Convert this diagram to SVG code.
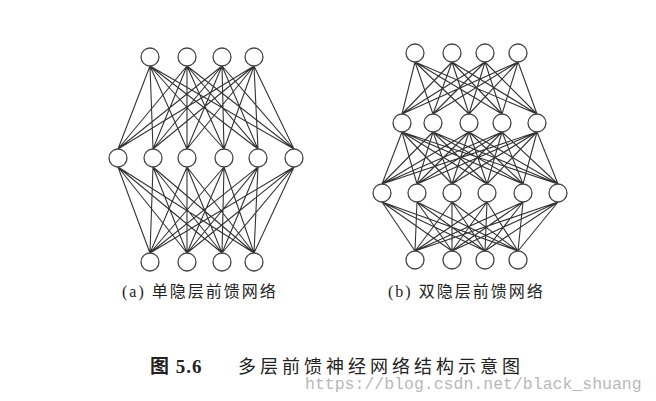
<svg xmlns="http://www.w3.org/2000/svg" width="656" height="401" viewBox="0 0 656 401">
<style>
.e{stroke:#333;stroke-width:1.1;fill:none}
.n circle{fill:#fff;stroke:#444;stroke-width:1.3}
.l{font-family:"Liberation Serif","Noto Sans CJK SC",serif;font-size:16px;fill:#222;letter-spacing:2px}
</style>
<rect width="656" height="401" fill="#fff"/>
<g id="connectors" class="e">
<path d="M150 66L118 149M150 66L153 149M150 66L187 149M150 66L224 149M150 66L258 149M150 66L294 149
M187 66L118 149M187 66L153 149M187 66L187 149M187 66L224 149M187 66L258 149M187 66L294 149
M222 66L118 149M222 66L153 149M222 66L187 149M222 66L224 149M222 66L258 149M222 66L294 149
M254 66L118 149M254 66L153 149M254 66L187 149M254 66L224 149M254 66L258 149M254 66L294 149
M150 253L118 167M150 253L153 167M150 253L187 167M150 253L224 167M150 253L258 167M150 253L294 167
M187 253L118 167M187 253L153 167M187 253L187 167M187 253L224 167M187 253L258 167M187 253L294 167
M222 253L118 167M222 253L153 167M222 253L187 167M222 253L224 167M222 253L258 167M222 253L294 167
M254 253L118 167M254 253L153 167M254 253L187 167M254 253L224 167M254 253L258 167M254 253L294 167"/>
<path d="M415 62L402 114M415 62L433 114M415 62L469 114M415 62L502 114M415 62L537 114
M452 62L402 114M452 62L433 114M452 62L469 114M452 62L502 114M452 62L537 114
M485 62L402 114M485 62L433 114M485 62L469 114M485 62L502 114M485 62L537 114
M518 62L402 114M518 62L433 114M518 62L469 114M518 62L502 114M518 62L537 114
M402 132L382 184M402 132L417 184M402 132L452 184M402 132L487 184M402 132L523 184M402 132L558 184
M433 132L382 184M433 132L417 184M433 132L452 184M433 132L487 184M433 132L523 184M433 132L558 184
M469 132L382 184M469 132L417 184M469 132L452 184M469 132L487 184M469 132L523 184M469 132L558 184
M502 132L382 184M502 132L417 184M502 132L452 184M502 132L487 184M502 132L523 184M502 132L558 184
M537 132L382 184M537 132L417 184M537 132L452 184M537 132L487 184M537 132L523 184M537 132L558 184
M415 251L382 202M415 251L417 202M415 251L452 202M415 251L487 202M415 251L523 202M415 251L558 202
M452 251L382 202M452 251L417 202M452 251L452 202M452 251L487 202M452 251L523 202M452 251L558 202
M485 251L382 202M485 251L417 202M485 251L452 202M485 251L487 202M485 251L523 202M485 251L558 202
M518 251L382 202M518 251L417 202M518 251L452 202M518 251L487 202M518 251L523 202M518 251L558 202"/>
</g>
<g class="n">
<g id="a_in1"><circle cx="150" cy="57" r="9"/></g><g id="a_in2"><circle cx="187" cy="57" r="9"/></g>
<g id="a_in3"><circle cx="222" cy="57" r="9"/></g><g id="a_in4"><circle cx="254" cy="57" r="9"/></g>
<g id="a_h1"><circle cx="118" cy="158" r="9"/></g><g id="a_h2"><circle cx="153" cy="158" r="9"/></g>
<g id="a_h3"><circle cx="187" cy="158" r="9"/></g><g id="a_h4"><circle cx="224" cy="158" r="9"/></g>
<g id="a_h5"><circle cx="258" cy="158" r="9"/></g><g id="a_h6"><circle cx="294" cy="158" r="9"/></g>
<g id="a_o1"><circle cx="150" cy="262" r="9"/></g><g id="a_o2"><circle cx="187" cy="262" r="9"/></g>
<g id="a_o3"><circle cx="222" cy="262" r="9"/></g><g id="a_o4"><circle cx="254" cy="262" r="9"/></g>
<g id="b_in1"><circle cx="415" cy="53" r="9"/></g><g id="b_in2"><circle cx="452" cy="53" r="9"/></g>
<g id="b_in3"><circle cx="485" cy="53" r="9"/></g><g id="b_in4"><circle cx="518" cy="53" r="9"/></g>
<g id="b_h1"><circle cx="402" cy="123" r="9"/></g><g id="b_h2"><circle cx="433" cy="123" r="9"/></g>
<g id="b_h3"><circle cx="469" cy="123" r="9"/></g><g id="b_h4"><circle cx="502" cy="123" r="9"/></g>
<g id="b_h5"><circle cx="537" cy="123" r="9"/></g>
<g id="b_g1"><circle cx="382" cy="193" r="9"/></g><g id="b_g2"><circle cx="417" cy="193" r="9"/></g>
<g id="b_g3"><circle cx="452" cy="193" r="9"/></g><g id="b_g4"><circle cx="487" cy="193" r="9"/></g>
<g id="b_g5"><circle cx="523" cy="193" r="9"/></g><g id="b_g6"><circle cx="558" cy="193" r="9"/></g>
<g id="b_o1"><circle cx="415" cy="260" r="9"/></g><g id="b_o2"><circle cx="452" cy="260" r="9"/></g>
<g id="b_o3"><circle cx="485" cy="260" r="9"/></g><g id="b_o4"><circle cx="518" cy="260" r="9"/></g>
</g>
<text class="l" x="122" y="297">(a) 单隐层前馈网络</text>
<text class="l" x="388" y="297">(b) 双隐层前馈网络</text>
<text class="l" x="150" y="373" style="font-size:19px;font-weight:bold;letter-spacing:1px">图 5.6</text>
<text class="l" x="238" y="373" style="font-size:18px;letter-spacing:4px">多层前馈神经网络结构示意图</text>
<text x="305" y="389" font-family="Liberation Mono,monospace" font-size="16.5" fill="#b8b8b8">https://blog.csdn.net/black_shuang</text>
</svg>
